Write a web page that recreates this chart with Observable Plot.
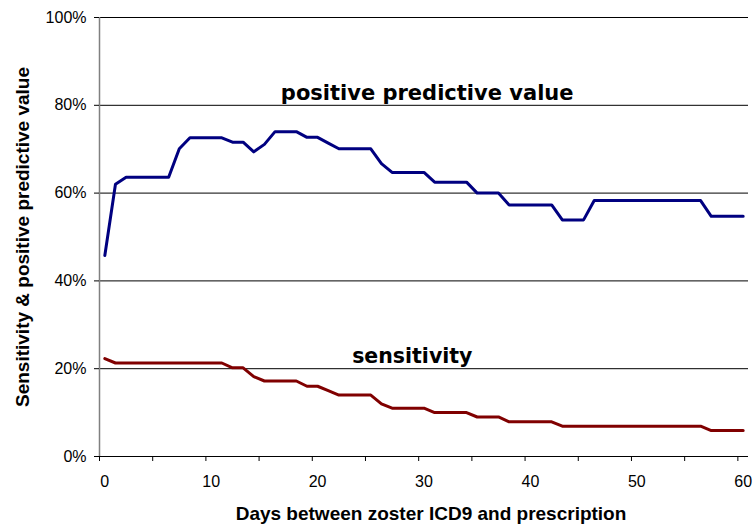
<!DOCTYPE html>
<html>
<head>
<meta charset="utf-8">
<script src="https://cdn.jsdelivr.net/npm/d3@7"></script>
<script src="https://cdn.jsdelivr.net/npm/@observablehq/plot@0.6"></script>
<style>
  html, body { margin: 0; padding: 0; background: #fff; }
</style>
</head>
<body>
<div id="chart"></div>
<script>
// ---- data ----
const days = [0,1,2,3,4,5,6,7,8,9,10,11,12,13,14,15,16,17,18,19,20,
  21,22,23,24,25,26,27,28,29,30,31,32,33,34,35,36,37,38,39,40,
  41,42,43,44,45,46,47,48,49,50,51,52,53,54,55,56,57,58,59,60];

// positive predictive value, %
const ppv = [45.8, 62.0,
  63.6, 63.6, 63.6, 63.6, 63.6,
  70.1,
  72.6, 72.6, 72.6, 72.6,
  71.6, 71.6,
  69.4, 71.1,
  74.0, 74.0, 74.0,
  72.7, 72.7,
  71.4,
  70.1, 70.1, 70.1, 70.1,
  66.7,
  64.7, 64.7, 64.7, 64.7,
  62.5, 62.5, 62.5, 62.5,
  60.0, 60.0, 60.0,
  57.3, 57.3, 57.3, 57.3, 57.3,
  53.9, 53.9, 53.9,
  58.3, 58.3, 58.3, 58.3, 58.3, 58.3, 58.3, 58.3, 58.3, 58.3, 58.3,
  54.7, 54.7, 54.7, 54.7];

// sensitivity, %
const sensitivity = [22.3,
  21.3, 21.3, 21.3, 21.3, 21.3, 21.3, 21.3, 21.3, 21.3, 21.3, 21.3,
  20.2, 20.2,
  18.2,
  17.2, 17.2, 17.2, 17.2,
  16.0, 16.0,
  15.0,
  14.0, 14.0, 14.0, 14.0,
  12.0,
  11.0, 11.0, 11.0, 11.0,
  10.0, 10.0, 10.0, 10.0,
  9.0, 9.0, 9.0,
  7.9, 7.9, 7.9, 7.9, 7.9,
  6.9, 6.9, 6.9, 6.9, 6.9, 6.9, 6.9, 6.9, 6.9, 6.9, 6.9, 6.9, 6.9, 6.9,
  5.9, 5.9, 5.9, 5.9];

const xLabelDays = [0, 10, 20, 30, 40, 50, 60];
const xTickMarks = [0, 5, 10, 15, 20, 25, 30, 35, 40, 45, 50, 55, 60];
const yTicks = [0, 20, 40, 60, 80, 100];
const yGrid = [20, 40, 60, 80, 100];
const seriesNames = ["positive predictive value", "sensitivity"];
const xTitle = "Days between zoster ICD9 and prescription";
const yTitle = "Sensitivity & positive predictive value";

// category centre offset (Excel category axis: points sit mid-category)
const mid = d => d + 0.5;

const chart = Plot.plot({
  width: 754,
  height: 527,
  marginLeft: 99,
  marginRight: 6,
  marginTop: 17,
  marginBottom: 71,
  style: { fontFamily: "'Liberation Sans', Arial, sans-serif", fontSize: "16px", color: "#000", background: "#fff" },
  x: { type: "linear", domain: [0, 61] },
  y: { type: "linear", domain: [0, 100] },
  marks: [
    Plot.ruleY(yGrid, { stroke: "#000", strokeWidth: 1 }),
    Plot.ruleX([0], { stroke: "#808080", strokeWidth: 1.5 }),
    Plot.ruleY([0], { stroke: "#000", strokeWidth: 1 }),
    Plot.axisY(yTicks, { tickSize: 5, tickPadding: 8, tickFormat: d => d + "%", label: null, stroke: "#000", fontSize: 16 }),
    Plot.axisX(xTickMarks, { tickSize: 5, tickFormat: () => "", label: null, stroke: "#000" }),
    Plot.axisX(xLabelDays.map(mid), { tickSize: 0, tickPadding: 19, tickFormat: v => String(Math.round(v - 0.5)), label: null, fontSize: 16 }),
    Plot.line(days, { x: d => mid(d), y: (d, i) => ppv[i], stroke: "#000080", strokeWidth: 3 }),
    Plot.line(days, { x: d => mid(d), y: (d, i) => sensitivity[i], stroke: "#800000", strokeWidth: 3 }),
    Plot.text([seriesNames[0]], { x: 30.8, y: 81.3, text: d => d, fontFamily: "'DejaVu Sans', sans-serif", fontWeight: "bold", fontSize: 21, lineAnchor: "bottom", fill: "#000" }),
    Plot.text([seriesNames[1]], { x: 29.4, y: 21.4, text: d => d, fontFamily: "'DejaVu Sans', sans-serif", fontWeight: "bold", fontSize: 20.5, lineAnchor: "bottom", fill: "#000" }),
    Plot.text([yTitle], { frameAnchor: "left", rotate: -90, dx: -76.5, text: d => d, textAnchor: "middle", fontWeight: "bold", fontSize: 19, lineAnchor: "middle", fill: "#000" }),
    Plot.text([xTitle], { frameAnchor: "bottom", dx: 7, dy: 63, text: d => d, textAnchor: "middle", fontWeight: "bold", fontSize: 19, lineAnchor: "bottom", fill: "#000" })
  ]
});
document.getElementById("chart").appendChild(chart);
</script>
</body>
</html>
